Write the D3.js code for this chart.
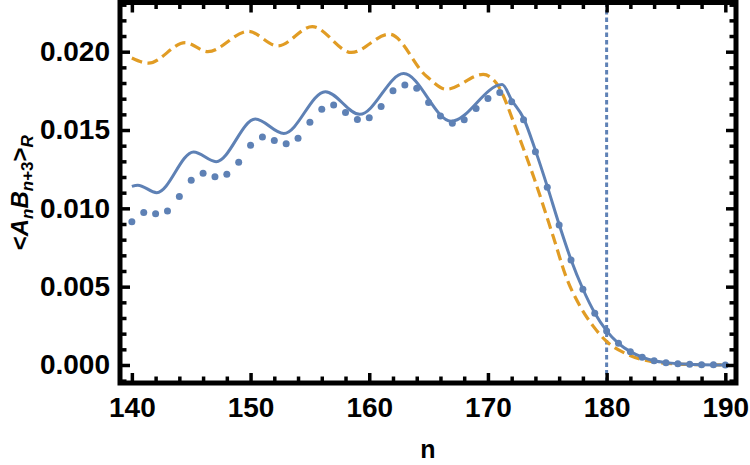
<!DOCTYPE html>
<html>
<head>
<meta charset="utf-8">
<script src="https://cdn.jsdelivr.net/npm/d3@7"></script>
<style>
  body { margin: 0; background: #fff; }
  svg { display: block; }
  .tick text { font-family: "Liberation Sans", Arial, sans-serif; font-weight: bold; font-size: 28px; fill: #000; }
</style>
</head>
<body>
<div id="chart"></div>
<script>
// dots: one per integer n
const dotN = [140,141,142,143,144,145,146,147,148,149,150,151,152,153,154,155,156,157,158,159,160,
              161,162,163,164,165,166,167,168,169,170,171,172,173,174,175,176,177,178,179,180,
              181,182,183,184,185,186,187,188,189,190]
const dotV = [0.00915,0.00973,0.00966,0.00983,0.01075,0.01179,0.01224,0.01201,0.01218,0.01294,0.01403,
              0.01456,0.01433,0.01413,0.01448,0.01550,0.01633,0.01660,0.01611,0.01567,0.01579,
              0.01650,0.01750,0.01788,0.01767,0.01675,0.01590,0.01543,0.01565,0.01637,0.01701,
              0.01739,0.01681,0.01565,0.01362,0.01135,0.00894,0.00670,0.00483,0.00330,0.00217,
              0.00138,0.00085,0.00050,0.00027,0.00015,0.00008,0.00004,0.00002,0.00001,0.00000]

// solid blue curve, read at its turning points and along the drop
const solidN = [140,140.5,142.1,145.2,147.1,150.4,152.8,156.3,159.2,162.9,166.9,171.2,172,173,174,175,
                176,177,178,179,180,181,182,183,184,185,186,187,188,190]
const solidV = [0.01140,0.01148,0.01100,0.01360,0.01298,0.01570,0.01478,0.01745,0.01600,0.01860,0.01556,
                0.01790,0.01690,0.01575,0.01370,0.01140,0.00897,0.00672,0.00485,0.00332,0.00218,
                0.00138,0.00085,0.00050,0.00027,0.00015,0.00008,0.00004,0.00002,0.00000]

// dashed orange curve
const dashN = [140,141.4,144.5,146.4,149.8,152.3,155.2,158.5,161.7,164.8,166.5,169.6,170.7,172.6,173.9,
               175.5,176.6,177.8,178.9,180,181.7,183.9,186,188,190]
const dashV = [0.01960,0.01927,0.02058,0.02000,0.02130,0.02037,0.02160,0.01995,0.02112,0.01845,0.01760,
               0.01855,0.01800,0.01460,0.01190,0.00820,0.00560,0.00370,0.00245,0.00150,0.00070,
               0.00020,0.00006,0.00002,0.00000]

const markerN = 180   // vertical dotted line

const xMajor = [140,150,160,170,180,190]
const yMajor = [0,0.005,0.010,0.015,0.020]

const blue = "#5e81b5", orange = "#e19c24"
const width = 750, height = 465
const pLeft = 120, pRight = 736, pTop = 2.5, pBottom = 383

const svg = d3.select("#chart").append("svg")
  .attr("width", width)
  .attr("height", height)

const x = d3.scaleLinear().domain([139, 190.9]).range([pLeft, pRight])
const y = d3.scaleLinear().domain([-0.00115, 0.02314]).range([pBottom, pTop])

const xMinor = d3.range(140, 191, 2).filter(d => d % 10 !== 0)
const yMinor = d3.range(-1, 24).map(d => d / 1000).filter(d => d >= y.domain()[0] && d <= y.domain()[1] && Math.round(d * 1000) % 5 !== 0)

const plot = svg.append("g")

plot.append("line")
  .attr("x1", x(markerN)).attr("x2", x(markerN))
  .attr("y1", pTop).attr("y2", pBottom)
  .attr("stroke", blue)
  .attr("stroke-width", 3)
  .attr("stroke-dasharray", "4.5,3")

const line = d3.line().curve(d3.curveMonotoneX).x(d => x(d[0])).y(d => y(d[1]))

plot.append("path")
  .attr("d", line(dashN.map((n, i) => [n, dashV[i]])))
  .attr("fill", "none")
  .attr("stroke", orange)
  .attr("stroke-width", 3.2)
  .attr("stroke-dasharray", "11,5.5")

plot.append("path")
  .attr("d", line(solidN.map((n, i) => [n, solidV[i]])))
  .attr("fill", "none")
  .attr("stroke", blue)
  .attr("stroke-width", 3)

plot.selectAll(".dot")
  .data(dotN.map((n, i) => [n, dotV[i]]))
  .enter().append("circle")
  .attr("class", "dot")
  .attr("cx", d => x(d[0]))
  .attr("cy", d => y(d[1]))
  .attr("r", 3.5)
  .attr("fill", blue)

// frame
svg.append("rect")
  .attr("x", pLeft).attr("y", pTop)
  .attr("width", pRight - pLeft).attr("height", pBottom - pTop)
  .attr("fill", "none")
  .attr("stroke", "#000")
  .attr("stroke-width", 5)

// ticks, short and heavy, pointing inward on all four sides
function ticks(axis, tx, ty) {
  const g = svg.append("g").attr("transform", `translate(${tx},${ty})`).call(axis)
  g.select(".domain").remove()
  g.selectAll(".tick line").attr("stroke", "#000").attr("stroke-width", 3.5)
  return g
}
const major = -10, minor = -6.5
ticks(d3.axisBottom(x).tickValues(xMajor).tickSize(major).tickPadding(14).tickFormat(d3.format("d")), 0, pBottom)
ticks(d3.axisBottom(x).tickValues(xMinor).tickSize(minor).tickFormat(""), 0, pBottom)
ticks(d3.axisTop(x).tickValues(xMajor).tickSize(major).tickFormat(""), 0, pTop)
ticks(d3.axisTop(x).tickValues(xMinor).tickSize(minor).tickFormat(""), 0, pTop)
ticks(d3.axisLeft(y).tickValues(yMajor).tickSize(major).tickPadding(10).tickFormat(d3.format(".3f")), pLeft, 0)
ticks(d3.axisLeft(y).tickValues(yMinor).tickSize(minor).tickFormat(""), pLeft, 0)
ticks(d3.axisRight(y).tickValues(yMajor).tickSize(major).tickFormat(""), pRight, 0)
ticks(d3.axisRight(y).tickValues(yMinor).tickSize(minor).tickFormat(""), pRight, 0)

// axis titles
const font = '"Liberation Sans", Arial, sans-serif'
svg.append("text")
  .attr("x", (pLeft + pRight) / 2)
  .attr("y", 458)
  .attr("text-anchor", "middle")
  .style("font-family", font).style("font-weight", "bold").style("font-size", "25px")
  .text("n")

const yTitle = svg.append("text")
  .attr("transform", `translate(28,${(pTop + pBottom) / 2}) rotate(-90)`)
  .attr("text-anchor", "middle")
  .style("font-family", font).style("font-weight", "bold").style("font-size", "24px")
const parts = [
  ["<", false, false], ["A", true, false], ["n", true, true],
  ["B", true, false], ["n", true, true], ["+3", false, true],
  [">", false, false], ["R", true, true]
]
let wasSub = false
parts.forEach(([t, it, sub]) => {
  const ts = yTitle.append("tspan").text(t)
  if (it) ts.style("font-style", "italic")
  if (sub) ts.style("font-size", "17px")
  if (sub !== wasSub) ts.attr("dy", sub ? 5 : -5)
  wasSub = sub
})
</script>
</body>
</html>
